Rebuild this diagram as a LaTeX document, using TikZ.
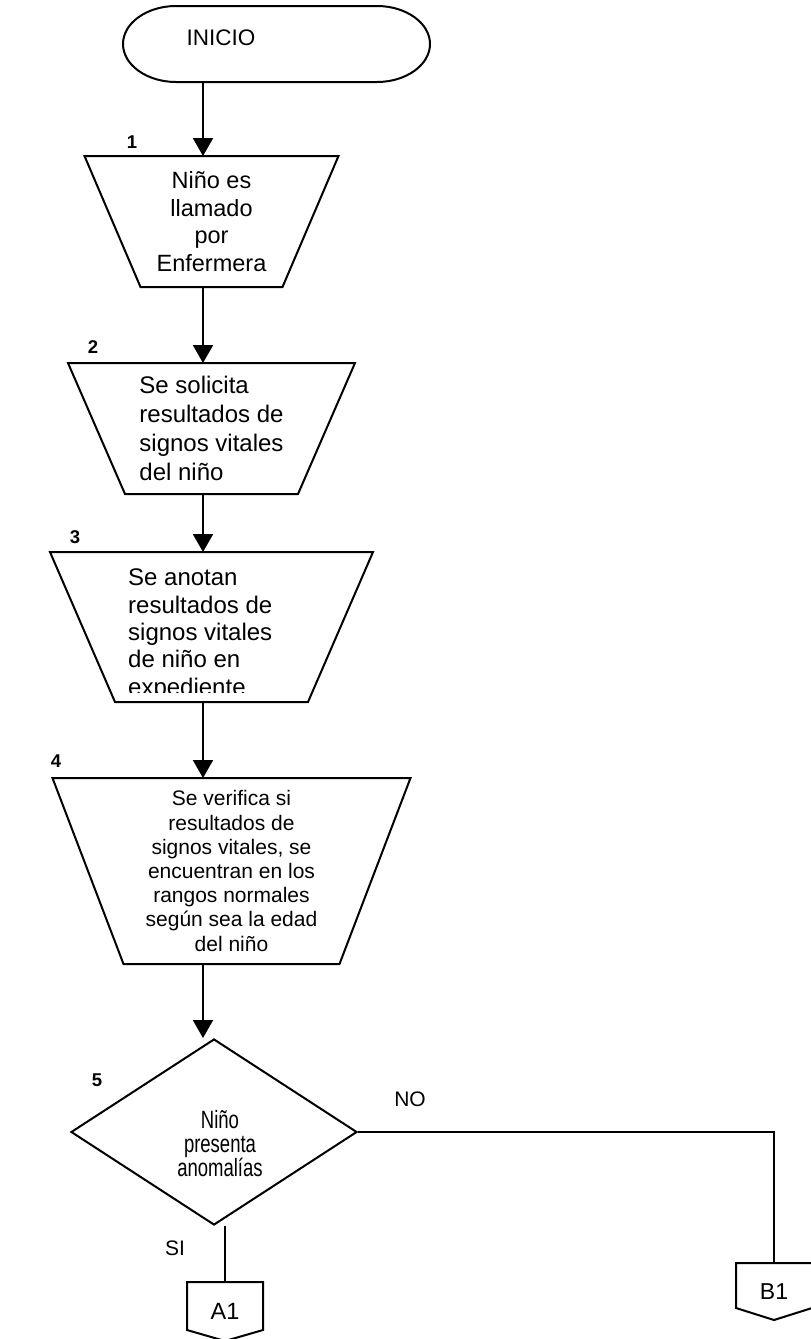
\documentclass[tikz,border=0pt]{standalone}
\usepackage{fontspec}
\setmainfont{Liberation Sans}
\newfontfamily\narrowsans[FakeStretch=0.74]{Liberation Sans}
\usetikzlibrary{arrows.meta,shapes.geometric}
\newcommand{\txtsize}[2]{\fontsize{#1pt}{#2pt}\selectfont}
\begin{document}
\begin{tikzpicture}[x=1pt,y=-1pt,
  outline/.style={line width=2pt, line join=miter},
  flow/.style={line width=2pt, -{Triangle[width=20pt,length=18pt]}},
  link/.style={line width=2pt},
  holder/.style={inner sep=0pt, outer sep=0pt, draw=none},
  num/.style={font=\bfseries\txtsize{18.5}{22}, inner sep=0pt},
  tag/.style={font=\txtsize{21}{24}, inner sep=0pt},
]
\useasboundingbox[fill=white] (0,0) rectangle (811,1339);

% ---- start terminal
\node[holder, minimum width=307pt, minimum height=76pt] (ini) at (276.5,44) {};
\draw[outline] ([xshift=53pt]ini.north west) -- ([xshift=-53pt]ini.north east)
  .. controls ([xshift=-24pt]ini.north east) and ([yshift=21pt]ini.east) .. (ini.east)
  .. controls ([yshift=-21pt]ini.east) and ([xshift=-24pt]ini.south east) .. ([xshift=-53pt]ini.south east)
  -- ([xshift=53pt]ini.south west)
  .. controls ([xshift=24pt]ini.south west) and ([yshift=-21pt]ini.west) .. (ini.west)
  .. controls ([yshift=21pt]ini.west) and ([xshift=24pt]ini.north west) .. ([xshift=53pt]ini.north west);
\node[font=\txtsize{22.5}{26}, inner sep=0pt] (initxt) at (221,38) {INICIO};

% ---- manual operation steps (inverted trapezoids)
\node[holder, minimum width=254pt, minimum height=131pt, align=center,
      font=\txtsize{23.5}{27.7}] (t1) at (211.5,221.5)
  {Niño es\\llamado\\por\\Enfermera};
\draw[outline] (t1.north west) -- (t1.north east) -- ([xshift=-56pt]t1.south east)
  -- ([xshift=56pt]t1.south west) -- cycle;

\node[holder, minimum width=287pt, minimum height=131pt, align=left,
      font=\txtsize{24}{29}] (t2) at (211.5,428.5)
  {Se solicita\\resultados de\\signos vitales\\del niño};
\draw[outline] (t2.north west) -- (t2.north east) -- ([xshift=-57pt]t2.south east)
  -- ([xshift=57pt]t2.south west) -- cycle;

\node[holder, minimum width=323pt, minimum height=150pt] (t3) at (211.5,627) {};
\begin{scope}
  \clip ([yshift=10pt]t3.south west) rectangle (t3.north east);
  \node[inner sep=0pt, anchor=north west, align=left, font=\txtsize{24}{27.3}] (t3txt)
    at (128,569) {Se anotan\\resultados de\\signos vitales\\de niño en\\expediente};
\end{scope}
\draw[outline] (t3.north west) -- (t3.north east) -- ([xshift=-65pt]t3.south east)
  -- ([xshift=65pt]t3.south west) -- cycle;

\node[holder, minimum width=358pt, minimum height=186pt, align=center,
      font=\txtsize{21}{24.2}] (t4) at (231.5,871)
  {Se verifica si\\resultados de\\signos vitales, se\\encuentran en los\\rangos normales\\según sea la edad\\del niño};
\draw[outline] (t4.north west) -- (t4.north east) -- ([xshift=-71pt]t4.south east)
  -- ([xshift=71pt]t4.south west) -- cycle;

% ---- decision
\node[diamond, draw, line width=2pt, inner sep=0pt, minimum width=286pt,
      minimum height=186pt] (d) at (214,1132) {};
\node[inner sep=0pt, align=center, font=\narrowsans\txtsize{25}{23.5}] (dtxt)
  at (220,1144) {Niño\\presenta\\anomalías};

% ---- off-page connectors
\node[holder, minimum width=76pt, minimum height=59pt, font=\txtsize{23.5}{26}] (a1)
  at (225,1311.5) {A1};
\draw[outline] (a1.north west) -- (a1.north east) -- ([yshift=11pt]a1.south east)
  -- (a1.south) -- ([yshift=11pt]a1.south west) -- cycle;

\node[holder, minimum width=76pt, minimum height=57pt, font=\txtsize{23}{26}] (b1)
  at (774,1291.5) {B1};
\draw[outline] (b1.north west) -- (b1.north east) -- ([yshift=12pt]b1.south east)
  -- (b1.south) -- ([yshift=12pt]b1.south west) -- cycle;

% ---- step numbers and branch labels
\node[num] (n1) at (132,142) {1};
\node[num] (n2) at (93,347) {2};
\node[num] (n3) at (75,537) {3};
\node[num] (n4) at (56,761) {4};
\node[num] (n5) at (97,1080) {5};
\node[tag] (si) at (175,1248) {SI};
\node[tag] (no) at (410,1099) {NO};

% ---- connectors
\coordinate (ax) at (203,0);
\draw[flow] (ini.south -| ax) -- (t1.north -| ax);
\draw[flow] (t1.south -| ax) -- (t2.north -| ax);
\draw[flow] (t2.south -| ax) -- (t3.north -| ax);
\draw[flow] (t3.south -| ax) -- (t4.north -| ax);
\draw[flow] (t4.south -| ax) -- (d.north -| ax);
\draw[link] (d.east) -| (b1.north);
\draw[link] (d.south -| a1.north) -- (a1.north);
\end{tikzpicture}
\end{document}
